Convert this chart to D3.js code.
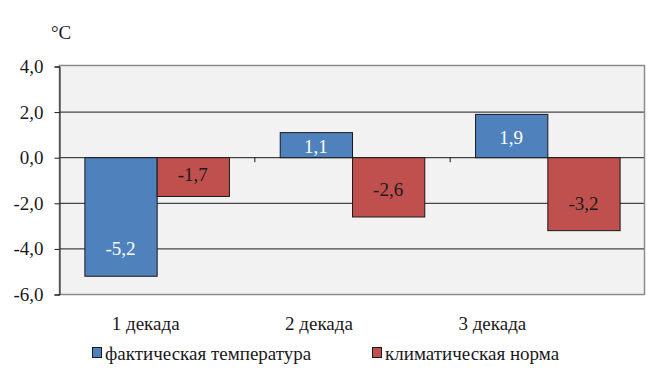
<!DOCTYPE html>
<html>
<head>
<meta charset="utf-8">
<script src="https://cdn.jsdelivr.net/npm/d3@7"></script>
<style>
  body { margin: 0; background: #fff; }
</style>
</head>
<body>
<script>
var categories = ["1 декада", "2 декада", "3 декада"];
var seriesNames = ["фактическая температура", "климатическая норма"];
var actual = [-5.2, 1.1, 1.9];
var norm = [-1.7, -2.6, -3.2];
var yTicks = [4, 2, 0, -2, -4, -6];

var colors = ["#4f81bd", "#c0504d"];
var labelColors = ["#ffffff", "#1a1a1a"];
var fontSize = 19;
var font = "'Liberation Serif', 'Times New Roman', Times, 'Noto Serif', 'DejaVu Serif', FreeSerif, serif";

var width = 649, height = 382;
var margin = {top: 66, right: 4, bottom: 88, left: 59};
var plotW = width - margin.left - margin.right,
	plotH = height - margin.top - margin.bottom;

var fmt = function(v) { return d3.format(".1f")(v).replace(".", ",").replace("−", "-"); };

var svg = d3.select("body").append("svg")
	.attr("width", width)
	.attr("height", height)
	.attr("font-family", font);

var g = svg.append("g")
	.attr("transform", "translate(" + margin.left + "," + margin.top + ")");

var x0 = d3.scaleBand()
	.domain(categories)
	.range([0, plotW])
	.paddingInner(0.26)
	.paddingOuter(0.13);

var x1 = d3.scaleBand()
	.domain([0, 1])
	.range([0, x0.bandwidth()]);

// category labels sit a bit left of their bars in the original
var xLabel = d3.scaleBand()
	.domain(categories)
	.range([0, 520]);

var y = d3.scaleLinear()
	.domain([-6, 4])
	.range([plotH, 0]);

// plot background
g.append("rect")
	.attr("width", plotW)
	.attr("height", plotH)
	.attr("fill", "#f2f2f2");

// gridlines
g.selectAll(".grid")
	.data(yTicks.filter(function(d) { return d > -6 && d < 4; }))
  .enter().append("line")
	.attr("x1", 0).attr("x2", plotW)
	.attr("y1", function(d) { return y(d) + 0.5; })
	.attr("y2", function(d) { return y(d) + 0.5; })
	.attr("stroke", "#1a1a1a")
	.attr("stroke-width", 1);

// frame
g.append("rect")
	.attr("x", 0.5).attr("y", -0.5)
	.attr("width", plotW - 1).attr("height", plotH + 1)
	.attr("fill", "none")
	.attr("stroke", "#8c8c8c")
	.attr("stroke-width", 1.5);

// y axis
var yAxis = g.append("g")
	.attr("transform", "translate(0.5,0.5)")
	.call(d3.axisLeft(y).tickValues(yTicks).tickSize(5).tickFormat(fmt));
yAxis.attr("font-family", font);
yAxis.select(".domain").attr("stroke", "#1a1a1a");
yAxis.selectAll(".tick line").attr("stroke", "#1a1a1a");
yAxis.selectAll(".tick text")
	.attr("x", -16)
	.attr("font-size", fontSize)
	.attr("fill", "#1a1a1a");

// category tick marks on zero line
g.selectAll(".ctick")
	.data(categories.slice(1))
  .enter().append("line")
	.attr("x1", function(d) { return x0(d) - x0.step() * x0.paddingInner() / 2 + 0.5; })
	.attr("x2", function(d) { return x0(d) - x0.step() * x0.paddingInner() / 2 + 0.5; })
	.attr("y1", y(0)).attr("y2", y(0) + 5)
	.attr("stroke", "#1a1a1a");

var data = categories.map(function(c, i) {
	return {cat: c, vals: [actual[i], norm[i]]};
});

var groups = g.selectAll(".cat")
	.data(data)
  .enter().append("g")
	.attr("transform", function(d) { return "translate(" + x0(d.cat) + ",0)"; });

groups.selectAll("rect")
	.data(function(d) { return d.vals.map(function(v, s) { return {s: s, v: v}; }); })
  .enter().append("rect")
	.attr("x", function(d) { return x1(d.s) + 0.5; })
	.attr("y", function(d) { return Math.min(y(0), y(d.v)) + 0.5; })
	.attr("width", x1.bandwidth())
	.attr("height", function(d) { return Math.abs(y(d.v) - y(0)); })
	.attr("fill", function(d) { return colors[d.s]; })
	.attr("stroke", "#1a1a1a")
	.attr("stroke-width", 1);

groups.selectAll(".lbl")
	.data(function(d) { return d.vals.map(function(v, s) { return {s: s, v: v}; }); })
  .enter().append("text")
	.attr("x", function(d) { return x1(d.s) + x1.bandwidth() / 2; })
	.attr("y", function(d) {
		var h = Math.abs(y(d.v) - y(0));
		var off = Math.min(27, h * 0.5 + 2);
		return d.v < 0 ? y(d.v) - off : y(d.v) + off;
	})
	.attr("dy", "0.35em")
	.attr("text-anchor", "middle")
	.attr("font-size", fontSize)
	.attr("fill", function(d) { return labelColors[d.s]; })
	.text(function(d) { return fmt(d.v); });

// category labels
g.selectAll(".clbl")
	.data(categories)
  .enter().append("text")
	.attr("x", function(d) { return xLabel(d) + xLabel.bandwidth() / 2; })
	.attr("y", plotH + 29)
	.attr("dy", "0.35em")
	.attr("text-anchor", "middle")
	.attr("font-size", fontSize)
	.attr("fill", "#1a1a1a")
	.text(function(d) { return d; });

// unit label
svg.append("text")
	.attr("x", 51)
	.attr("y", 39)
	.attr("font-size", fontSize)
	.attr("fill", "#1a1a1a")
	.text("°C");

// legend
var legendX = [92, 372];
var legend = svg.selectAll(".legend")
	.data(seriesNames)
  .enter().append("g")
	.attr("transform", function(d, i) { return "translate(" + legendX[i] + ",353)"; });

legend.append("rect")
	.attr("x", 0.5).attr("y", -5.5)
	.attr("width", 9).attr("height", 10)
	.attr("fill", function(d, i) { return colors[i]; })
	.attr("stroke", "#1a1a1a");

legend.append("text")
	.attr("x", 13)
	.attr("y", 0)
	.attr("dy", "0.35em")
	.attr("font-size", fontSize)
	.attr("fill", "#1a1a1a")
	.text(function(d) { return d; });
</script>
</body>
</html>
